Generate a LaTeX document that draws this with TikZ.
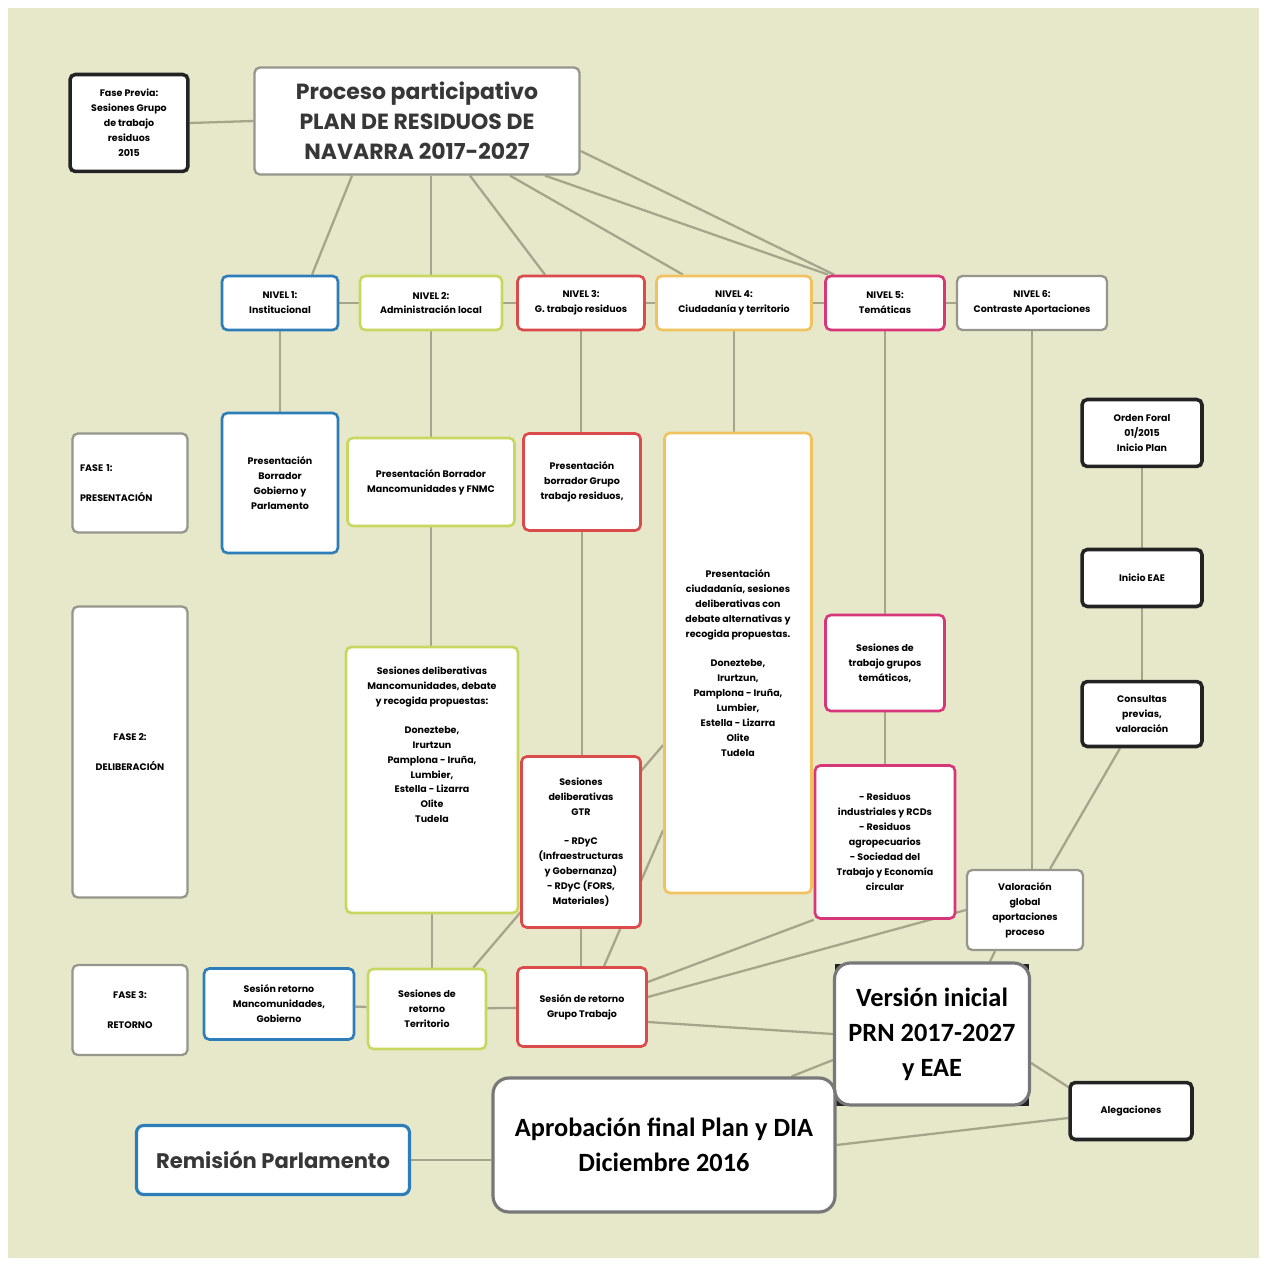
\documentclass[tikz,border=0pt]{standalone}
\usepackage{fontspec}
\setmainfont{Poppins}
\newfontfamily\calibri{Carlito}
\usetikzlibrary{calc,backgrounds}

\definecolor{bgolive}{RGB}{231,232,202}
\definecolor{linkgray}{RGB}{165,165,140}
\definecolor{nblue}{RGB}{45,125,185}
\definecolor{ngreen}{RGB}{200,215,95}
\definecolor{nred}{RGB}{220,75,75}
\definecolor{nyellow}{RGB}{240,195,95}
\definecolor{npink}{RGB}{215,55,120}
\definecolor{ngray}{RGB}{150,150,140}
\definecolor{nblack}{RGB}{35,35,35}
\definecolor{nbig}{RGB}{120,120,120}
\definecolor{titlegray}{RGB}{55,55,55}

\begin{document}
\begin{tikzpicture}[
  x=0.02cm, y=-0.02cm,
  small_txt/.style={font=\bfseries\fontsize{5.4}{8.5}\selectfont},
  plain_box/.style={rectangle, rounded corners=3pt, fill=white, align=center, inner sep=1pt, small_txt},
  blue_box/.style={plain_box, draw=nblue, line width=1.5pt},
  green_box/.style={plain_box, draw=ngreen, line width=1.5pt},
  red_box/.style={plain_box, draw=nred, line width=1.5pt},
  yellow_box/.style={plain_box, draw=nyellow, line width=1.5pt},
  pink_box/.style={plain_box, draw=npink, line width=1.5pt},
  gray_box/.style={plain_box, draw=ngray, line width=1.3pt},
  black_box/.style={plain_box, draw=nblack, line width=2pt},
  big_box/.style={rectangle, rounded corners=9pt, fill=white, draw=nbig, line width=1.8pt, align=center, font=\calibri\bfseries\fontsize{15}{20}\selectfont},
  link/.style={draw=linkgray, line width=1.3pt},
]
\useasboundingbox (0,0) rectangle (1267,1266);

% cabecera
\node (prev) [black_box, minimum width=2.36cm, minimum height=1.94cm] at (129,123) {Fase Previa:\\Sesiones Grupo\\de trabajo\\residuos\\2015};
\node (title) [gray_box, minimum width=6.5cm, minimum height=2.14cm, font=\bfseries\fontsize{12.5}{17}\selectfont, text=titlegray] at (417,121) {Proceso participativo\\PLAN DE RESIDUOS DE\\NAVARRA 2017-2027};

% niveles
\node (lev1) [blue_box, minimum width=2.32cm, minimum height=1.08cm] at (280,303) {NIVEL 1:\\Institucional};
\node (lev2) [green_box, minimum width=2.84cm, minimum height=1.08cm] at (431,303) {NIVEL 2:\\Administración local};
\node (lev3) [red_box, minimum width=2.54cm, minimum height=1.08cm] at (581,303) {NIVEL 3:\\G. trabajo residuos};
\node (lev4) [yellow_box, minimum width=3.10cm, minimum height=1.08cm] at (734,303) {NIVEL 4:\\Ciudadanía y territorio};
\node (lev5) [pink_box, minimum width=2.38cm, minimum height=1.08cm] at (885,303) {NIVEL 5:\\Temáticas};
\node (lev6) [gray_box, minimum width=3.0cm, minimum height=1.08cm] at (1032,303) {NIVEL 6:\\Contraste Aportaciones};

% fase 1
\node (fase1) [gray_box, minimum width=2.3cm, minimum height=1.98cm, align=left, text width=2.0cm] at (130,483) {FASE 1:\\[9pt]PRESENTACIÓN};
\node (pgob) [blue_box, minimum width=2.32cm, minimum height=2.8cm] at (280,483) {Presentación\\Borrador\\Gobierno y\\Parlamento};
\node (pmanc) [green_box, minimum width=3.34cm, minimum height=1.76cm] at (431,482) {Presentación Borrador\\Mancomunidades y FNMC};
\node (pgrupo) [red_box, minimum width=2.34cm, minimum height=1.94cm] at (582,482) {Presentación\\borrador Grupo\\trabajo residuos,};
\node (pciud) [yellow_box, minimum width=2.94cm, minimum height=9.2cm] at (738,663) {Presentación\\ciudadanía, sesiones\\deliberativas con\\debate alternativas y\\recogida propuestas.\\[8pt]Doneztebe,\\Irurtzun,\\Pamplona - Iruña,\\Lumbier,\\Estella - Lizarra\\Olite\\Tudela};

% procedimiento
\node (orden) [black_box, minimum width=2.4cm, minimum height=1.34cm] at (1142,433) {Orden Foral\\01/2015\\Inicio Plan};
\node (eae) [black_box, minimum width=2.4cm, minimum height=1.14cm] at (1142,578) {Inicio EAE};
\node (consul) [black_box, minimum width=2.4cm, minimum height=1.3cm] at (1142,714) {Consultas\\previas,\\valoración};

% fase 2
\node (fase2) [gray_box, minimum width=2.3cm, minimum height=5.82cm] at (130,752) {FASE 2:\\[9pt]DELIBERACIÓN};
\node (smanc) [green_box, minimum width=3.44cm, minimum height=5.32cm,
  label={[small_txt, align=center, yshift=20pt]center:{Sesiones deliberativas\\Mancomunidades, debate\\y recogida propuestas:\\[8pt]Doneztebe,\\Irurtzun\\Pamplona - Iruña,\\Lumbier,\\Estella - Lizarra\\Olite\\Tudela}}] at (432,780) {};
\node (stem) [pink_box, minimum width=2.38cm, minimum height=1.92cm] at (885,663) {Sesiones de\\trabajo grupos\\temáticos,};
\node (sgtr) [red_box, minimum width=2.38cm, minimum height=3.42cm] at (581,842) {Sesiones\\deliberativas\\GTR\\[8pt]- RDyC\\(Infraestructuras\\y Gobernanza)\\- RDyC (FORS,\\Materiales)};
\node (sres) [pink_box, minimum width=2.8cm, minimum height=3.06cm] at (885,842) {- Residuos\\industriales y RCDs\\- Residuos\\agropecuarios\\- Sociedad del\\Trabajo y Economía\\circular};
\node (valor) [gray_box, minimum width=2.32cm, minimum height=1.6cm] at (1025,910) {Valoración\\global\\aportaciones\\proceso};

% fase 3
\node (fase3) [gray_box, minimum width=2.3cm, minimum height=1.8cm] at (130,1010) {FASE 3:\\[9pt]RETORNO};
\node (rmanc) [blue_box, minimum width=3.0cm, minimum height=1.42cm] at (279,1004) {Sesión retorno\\Mancomunidades,\\Gobierno};
\node (rterr) [green_box, minimum width=2.36cm, minimum height=1.6cm] at (427,1009) {Sesiones de\\retorno\\Territorio};
\node (rgrupo) [red_box, minimum width=2.58cm, minimum height=1.58cm] at (582,1007) {Sesión de retorno\\Grupo Trabajo};

% cierre
\node (verback) [rectangle, fill=nblack, minimum width=3.9cm, minimum height=2.84cm] at (932,1035) {};
\node (version) [big_box, minimum width=3.9cm, minimum height=2.84cm] at (932,1034) {Versión inicial\\PRN 2017-2027\\y EAE};
\node (aleg) [black_box, minimum width=2.44cm, minimum height=1.14cm] at (1131,1111) {Alegaciones};
\node (aprob) [big_box, minimum width=6.84cm, minimum height=2.68cm] at (664,1145) {Aprobación final Plan y DIA\\Diciembre 2016};
\node (remis) [rectangle, rounded corners=4pt, fill=white, draw=nblue, line width=1.8pt, minimum width=5.46cm, minimum height=1.38cm, font=\bfseries\fontsize{12}{14}\selectfont, text=titlegray] at (273,1160) {Remisión Parlamento};

\begin{scope}[on background layer]
\fill[bgolive] (8,8) rectangle (1259,1258);
% cabecera
\draw[link] (prev.east) -- (title.west);
\draw[link] ($(title.south)+(-65,0)$) -- ($(lev1.north)+(32,0)$);
\draw[link] (title.south -| lev2) -- (lev2.north);
\draw[link] ($(title.south)+(53,0)$) -- ($(lev3.north)+(-36,0)$);
\draw[link] ($(title.south)+(93,0)$) -- ($(lev4.north)+(-51,0)$);
\draw[link] ($(title.south)+(128,0)$) -- ($(lev5.north west)+(4,0)$);
\draw[link] ($(title.east)+(0,30)$) -- ($(lev5.north west)+(10,0)$);
\draw[link] (lev1) -- (lev2) -- (lev3) -- (lev4) -- (lev5) -- (lev6);
% columnas
\draw[link] (lev1.south) -- (pgob.north);
\draw[link] (lev2.south) -- (pmanc.north);
\draw[link] (pmanc.south) -- (pmanc.south |- smanc.north);
\draw[link] (smanc.south) -- (smanc.south |- rterr.north);
\draw[link] (lev3.south) -- (lev3.south |- pgrupo.north);
\draw[link] (pgrupo.south) -- (pgrupo.south |- sgtr.north);
\draw[link] (sgtr.south) -- (sgtr.south |- rgrupo.north);
\draw[link] (lev4.south) -- (lev4.south |- pciud.north);
\draw[link] (lev5.south) -- (stem.north);
\draw[link] (stem.south) -- (sres.north);
\draw[link] (lev6.south) -- (lev6.south |- valor.north);
\draw[link] (orden) -- (eae) -- (consul);
\draw[link] ($(consul.south)+(-22,0)$) -- ($(valor.north)+(25,0)$);
% retorno
\draw[link] (rmanc) -- (rterr) -- (rgrupo);
\draw[link] ($(pciud.west)+(0,82)$) -- ($(rterr.north east)+(-14,0)$);
\draw[link] ($(pciud.west)+(0,167)$) -- ($(rgrupo.north)+(22,0)$);
\draw[link] ($(rgrupo.east)+(0,-25)$) -- (sres.south west);
\draw[link] ($(rgrupo.east)+(0,-10)$) -- (valor.west);
\draw[link] ($(rgrupo.east)+(0,15)$) -- (version.west);
% cierre
\draw[link] ($(valor.south)+(-30,0)$) -- ($(version.north)+(58,0)$);
\draw[link] ($(version.east)+(0,29)$) -- ($(aleg.west)+(0,-24)$);
\draw[link] ($(aleg.west)+(0,7)$) -- (aprob.east);
\draw[link] ($(version.west)+(0,26)$) -- ($(aprob.north east)+(-45,0)$);
\draw[link] (remis.east) -- (remis.east -| aprob.west);
\end{scope}
\end{tikzpicture}
\end{document}
